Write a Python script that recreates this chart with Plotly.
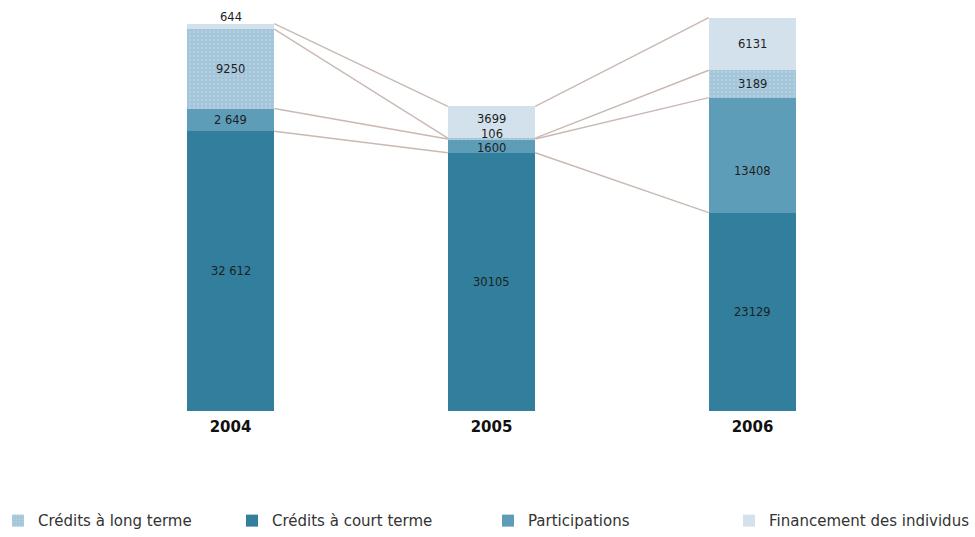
import plotly.graph_objects as go

# Financing breakdown by year (stacked bars)
years = ["2004", "2005", "2006"]
court_terme = [32612, 30105, 23129]
participations = [2649, 1600, 13408]
long_terme = [9250, 106, 3189]
individus = [644, 3699, 6131]

court_labels = ["32 612", "30105", "23129"]
part_labels = ["2 649", "1600", "13408"]
long_labels = ["9250", "106", "3189"]
indiv_labels = ["644", "3699", "6131"]

x = [0, 1, 2]
bar_w = 0.335

series = [
    # name, values, labels, colour, legend id, pattern
    ("Crédits à court terme", court_terme, court_labels, "#317f9d", "legend2", None),
    ("Participations", participations, part_labels, "#5e9db8", "legend3", None),
    ("Crédits à long terme", long_terme, long_labels, "#a3c5d9", "legend", "."),
    ("Financement des individus", individus, indiv_labels, "#d2e1eb", "legend4", None),
]

# small pixel nudges so crowded labels stay readable
nudge = {
    ("Financement des individus", 0): 9,
    ("Financement des individus", 1): 3,
    ("Crédits à long terme", 1): 5,
    ("Participations", 1): -2,
    ("Participations", 2): -16,
}

fig = go.Figure()
for name, vals, labels, color, leg, pat in series:
    marker = dict(color=color, line=dict(width=0))
    if pat:
        marker["pattern"] = dict(shape=pat, size=4, solidity=0.25,
                                 fgcolor="#c9dcea", fillmode="overlay")
    fig.add_trace(go.Bar(
        x=x, y=vals, name=name, width=bar_w, marker=marker,
        legend=leg, hoverinfo="skip",
    ))

# cumulative boundaries of each stack
bounds = []
run = [0, 0, 0]
for _, vals, _, _, _, _ in series:
    run = [r + v for r, v in zip(run, vals)]
    bounds.append(list(run))

# thin connector lines between matching boundaries of neighbouring bars
for b in bounds:
    for i in range(len(x) - 1):
        fig.add_trace(go.Scatter(
            x=[x[i] + bar_w / 2, x[i + 1] - bar_w / 2],
            y=[b[i], b[i + 1]],
            mode="lines", line=dict(color="#c9b9b2", width=1.4),
            showlegend=False, hoverinfo="skip",
        ))

# value labels centred in each segment
base = [0, 0, 0]
for name, vals, labels, _, _, _ in series:
    for i, (v, lab) in enumerate(zip(vals, labels)):
        fig.add_annotation(
            x=x[i], y=base[i] + v / 2, text=lab, showarrow=False,
            yshift=nudge.get((name, i), 0),
            font=dict(family="DejaVu Sans, sans-serif", size=11.5,
                      color="#1e1e1e"),
        )
    base = [b + v for b, v in zip(base, vals)]

plot_left, plot_w = 100, 783
legend_font = dict(family="DejaVu Sans, sans-serif", size=15, color="#333")


def legend_at(px):
    return dict(orientation="h", x=(px - plot_left) / plot_w, xanchor="left",
                y=-0.274, yanchor="middle", font=legend_font,
                bgcolor="rgba(0,0,0,0)")


fig.update_layout(
    width=975, height=537,
    barmode="stack",
    plot_bgcolor="white", paper_bgcolor="white",
    margin=dict(l=plot_left, r=92, t=10, b=126, autoexpand=False),
    bargap=0,
    xaxis=dict(
        range=[-0.5, 2.5], tickvals=x, ticktext=years,
        showgrid=False, zeroline=False, showline=False,
        ticks="", ticklabelstandoff=5,
        tickfont=dict(family="DejaVu Sans, sans-serif", size=15,
                      color="#111", weight="bold"),
    ),
    yaxis=dict(
        range=[0, 46750], visible=False, showgrid=False, zeroline=False,
    ),
    legend=legend_at(-2),
    legend2=legend_at(232),
    legend3=legend_at(488),
    legend4=legend_at(729),
    showlegend=True,
)

fig.write_html("out.html")
